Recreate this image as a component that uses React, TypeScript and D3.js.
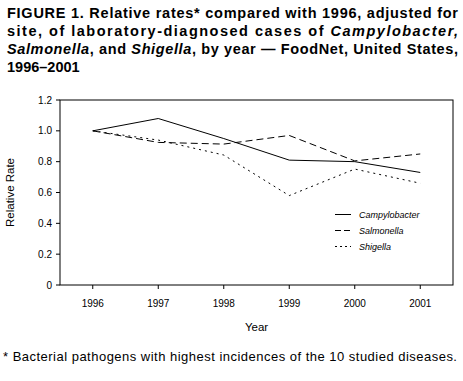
import React from "react";
import * as d3 from "d3";

const years = ["1996", "1997", "1998", "1999", "2000", "2001"];
const campylobacter = [1.0, 1.08, 0.95, 0.81, 0.8, 0.73];
const salmonella = [1.0, 0.925, 0.914, 0.97, 0.805, 0.85];
const shigella = [1.0, 0.94, 0.843, 0.58, 0.752, 0.66];
const yTicks = [0, 0.2, 0.4, 0.6, 0.8, 1.0, 1.2];
const seriesNames = ["Campylobacter", "Salmonella", "Shigella"];

const FONT = "'Liberation Sans', Arial, Helvetica, sans-serif";

export default function App() {
  const W = 463, H = 381;
  const left = 60, right = 453, top = 100, bottom = 285;
  const x = d3.scalePoint<string>().domain(years).range([left, right]).padding(0.5);
  const y = d3.scaleLinear().domain([0, 1.2]).range([bottom, top]);
  const line = d3.line<number>().x((_, i) => x(years[i]) as number).y((d) => y(d));
  const series = [
    { name: seriesNames[0], data: campylobacter, dash: "none" },
    { name: seriesNames[1], data: salmonella, dash: "7,4" },
    { name: seriesNames[2], data: shigella, dash: "2,4" },
  ];
  return (
    <svg width={W} height={H} style={{ position: "absolute", left: 0, top: 0, background: "#fff" }} fontFamily={FONT}>
      <rect width={W} height={H} fill="#fff" />
      <g fontWeight="bold" fontSize={14.5} fill="#000">
        <text x={7} y={18} textLength={451} lengthAdjust="spacing">FIGURE 1. Relative rates* compared with 1996, adjusted for</text>
        <text x={7} y={36} textLength={451} lengthAdjust="spacing">site, of laboratory-diagnosed cases of <tspan fontStyle="italic">Campylobacter,</tspan></text>
        <text x={7} y={54} textLength={451} lengthAdjust="spacing"><tspan fontStyle="italic">Salmonella</tspan>, and <tspan fontStyle="italic">Shigella</tspan>, by year — FoodNet, United States,</text>
        <text x={7} y={72}>1996–2001</text>
      </g>
      <rect x={left} y={top} width={right - left} height={bottom - top} fill="none" stroke="#000" strokeWidth={1} />
      {yTicks.map((t) => (
        <g key={t}>
          <line x1={left - 4} x2={left} y1={y(t)} y2={y(t)} stroke="#000" />
          <text x={left - 8} y={y(t) + 3.5} fontSize={10} textAnchor="end">{t === 0 ? "0" : t.toFixed(1)}</text>
        </g>
      ))}
      {years.map((yr) => (
        <g key={yr}>
          <line x1={x(yr)} x2={x(yr)} y1={bottom} y2={bottom + 4} stroke="#000" />
          <text x={x(yr)} y={bottom + 22} fontSize={10} textAnchor="middle">{yr}</text>
        </g>
      ))}
      <text x={(left + right) / 2} y={bottom + 46} fontSize={11.5} textAnchor="middle">Year</text>
      <text transform={`translate(14,${(top + bottom) / 2}) rotate(-90)`} fontSize={11.5} textAnchor="middle">Relative Rate</text>
      {series.map((s) => (
        <path key={s.name} d={line(s.data) as string} fill="none" stroke="#000" strokeWidth={1} strokeDasharray={s.dash} />
      ))}
      {series.map((s, i) => (
        <g key={s.name + "leg"}>
          <line x1={335} x2={351} y1={214.5 + i * 16} y2={214.5 + i * 16} stroke="#000" strokeDasharray={i === 1 ? "6,3" : i === 2 ? "2,3" : "none"} />
          <text x={359} y={218 + i * 16} fontSize={9} fontStyle="italic">{s.name}</text>
        </g>
      ))}
      <text x={3} y={361} fontSize={13} textLength={454} lengthAdjust="spacing">* Bacterial pathogens with highest incidences of the 10 studied diseases.</text>
    </svg>
  );
}
